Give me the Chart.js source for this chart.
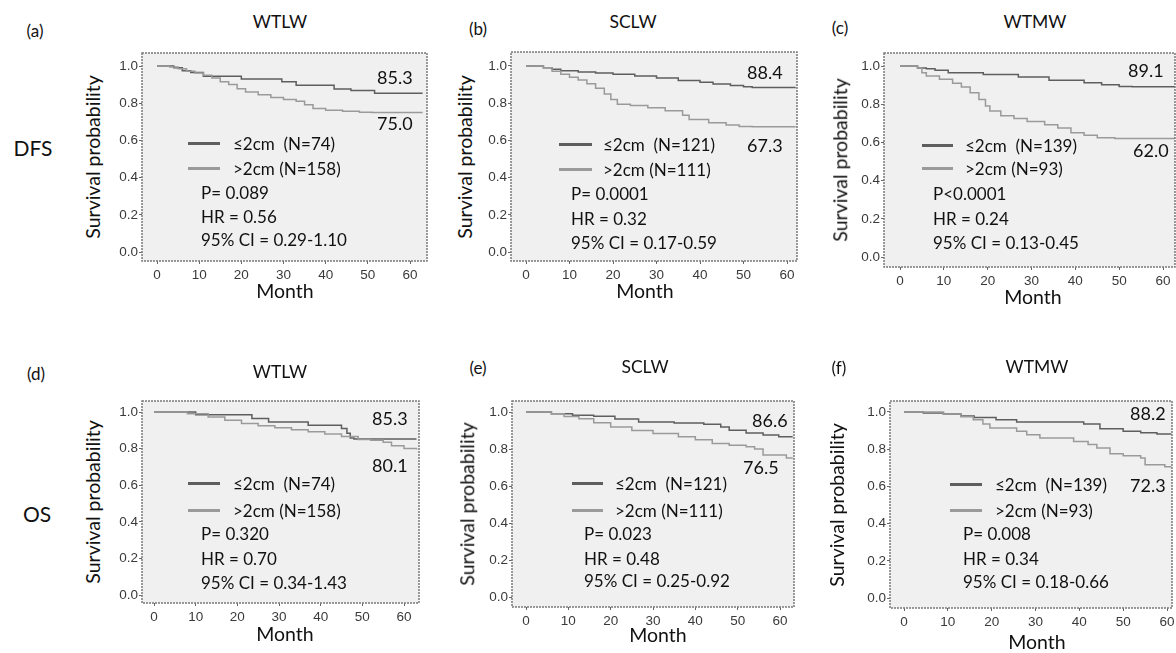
<!DOCTYPE html>
<html>
<head>
<meta charset="utf-8">
<script src="https://cdn.jsdelivr.net/npm/chart.js@4"></script>
<style>
body { margin: 0; width: 1176px; height: 653px; overflow: hidden; background: #fff; position: relative;
       font-family: "Lato", "DejaVu Sans", sans-serif; color: #111; }
.t { position: absolute; white-space: pre; transform: translateY(-50%); line-height: 1; }
.c { transform: translate(-50%, -50%); }
.ylab { transform: translate(-50%, -50%) rotate(-90deg); }
.seg { position: absolute; height: 0; border-top: 3px solid; }
canvas { position: absolute; }
</style>
</head>
<body>
<script>
// tick values
const monthTicks = [0, 10, 20, 30, 40, 50, 60];
const probTicks = [0, 0.2, 0.4, 0.6, 0.8, 1.0];
const groupNames = ['≤2cm  ', '>2cm '];

// Kaplan-Meier steps: [month, survival]
// DFS
const dfsWtlwSmall = [[0,1],[4,0.99],[6,0.975],[8,0.965],[11,0.945],[20,0.93],[29.6,0.915],[33,0.896],[42,0.877],[46,0.868],[51.6,0.853],[63,0.853]];
const dfsWtlwLarge = [[0,1],[3,0.995],[5,0.985],[7,0.972],[9,0.962],[11,0.95],[13,0.935],[15,0.915],[17,0.9],[19,0.878],[21,0.86],[24,0.845],[27,0.83],[30,0.82],[33,0.81],[35,0.792],[37,0.772],[40,0.762],[44,0.757],[48,0.752],[51,0.75],[63,0.75]];
const dfsSclwSmall = [[0,1],[4,0.99],[6,0.982],[8,0.975],[12,0.968],[16,0.962],[20,0.955],[25,0.946],[30,0.935],[35,0.922],[40,0.912],[43,0.903],[47,0.895],[50,0.888],[52,0.884],[62,0.884]];
const dfsSclwLarge = [[0,1],[4,0.99],[6,0.972],[8,0.955],[10,0.94],[12,0.925],[14,0.905],[16,0.88],[18,0.85],[19.5,0.82],[21,0.795],[24,0.788],[28,0.776],[32,0.76],[36,0.735],[37.5,0.712],[42,0.695],[46,0.683],[49,0.675],[52,0.673],[62,0.673]];
const dfsWtmwSmall = [[0,1],[4,0.99],[6,0.985],[8,0.978],[11,0.965],[19,0.956],[27,0.942],[34,0.925],[42,0.912],[46,0.902],[50,0.893],[53,0.891],[63,0.891]];
const dfsWtmwLarge = [[0,1],[4,0.99],[5,0.965],[6,0.947],[9,0.93],[12,0.91],[14,0.89],[16,0.86],[18,0.825],[19.5,0.79],[20.5,0.765],[23,0.74],[26,0.725],[29,0.71],[33,0.693],[36,0.675],[39,0.65],[42,0.638],[45,0.625],[49,0.62],[63,0.62]];
// OS
const osWtlwSmall = [[0,1],[10,0.985],[23.5,0.964],[27.5,0.946],[37,0.928],[45,0.91],[46.3,0.884],[47.1,0.858],[48,0.853],[63,0.853]];
const osWtlwLarge = [[0,1],[8,0.99],[13,0.973],[17,0.955],[21,0.937],[25,0.925],[29,0.914],[33,0.903],[37,0.892],[41,0.88],[45,0.866],[49,0.85],[52,0.845],[55,0.835],[57,0.815],[60,0.8],[63,0.795]];
const osSclwSmall = [[0,1],[6,0.99],[11,0.983],[16,0.977],[21,0.962],[26.6,0.946],[35,0.94],[42,0.934],[46,0.919],[48,0.901],[52,0.887],[56,0.876],[59.7,0.866],[63,0.866]];
const osSclwLarge = [[0,1],[6,0.99],[9,0.976],[12.5,0.964],[16,0.942],[20,0.919],[25,0.9],[30,0.884],[36,0.866],[40,0.85],[44,0.83],[48,0.82],[52,0.812],[54,0.8],[56,0.767],[61.5,0.752],[63,0.752]];
const osWtmwSmall = [[0,1],[4.4,0.995],[9,0.989],[13,0.978],[16,0.971],[21,0.958],[25.7,0.946],[41,0.935],[44.7,0.91],[50,0.896],[54,0.888],[57.7,0.882],[61,0.882]];
const osWtmwLarge = [[0,1],[9,0.989],[13,0.975],[15.8,0.959],[18,0.935],[19.6,0.914],[25.7,0.896],[28,0.878],[31,0.86],[38.7,0.842],[42,0.825],[44,0.806],[47,0.775],[50,0.765],[54,0.753],[55,0.717],[59.5,0.705],[61,0.705]];

// layout of each panel (page pixels): plot box, pixel of month 0 / 60, pixel of prob 1 / 0
const panels = [
  { tag: '(a)', title: 'WTLW', small: dfsWtlwSmall, large: dfsWtlwLarge, n: [74, 158],
    stats: ['P= 0.089', 'HR = 0.56', '95% CI = 0.29-1.10'], ends: [['85.3', 377, 77], ['75.0', 377, 123]],
    box: [142, 53, 427, 261], xcal: [157, 410], ycal: [66, 252],
    tagPos: [35, 30], titlePos: [280, 22], ylabX: 93, monthPos: [285, 291],
    segX: 188, segW: 32, segY: [143, 168], legX: 233, statX: 201, statY: [192, 216, 239] },
  { tag: '(b)', title: 'SCLW', small: dfsSclwSmall, large: dfsSclwLarge, n: [121, 111],
    stats: ['P= 0.0001', 'HR = 0.32', '95% CI = 0.17-0.59'], ends: [['88.4', 747, 72], ['67.3', 747, 145]],
    box: [511, 52, 797, 261], xcal: [526, 787], ycal: [66, 252],
    tagPos: [478, 28], titlePos: [633, 22], ylabX: 465, monthPos: [645, 291],
    segX: 559, segW: 33, segY: [144, 169], legX: 603, statX: 571, statY: [193, 218, 242] },
  { tag: '(c)', title: 'WTMW', small: dfsWtmwSmall, large: dfsWtmwLarge, n: [139, 93],
    stats: ['P<0.0001', 'HR = 0.24', '95% CI = 0.13-0.45'], ends: [['89.1', 1128, 70], ['62.0', 1133, 150]],
    box: [884, 53, 1175, 267], xcal: [900, 1163], ycal: [66, 257],
    tagPos: [840, 27], titlePos: [1035, 22], ylabX: 840, monthPos: [1033, 297],
    segX: 922, segW: 31, segY: [145, 168], legX: 965, statX: 933, statY: [193, 218, 242] },
  { tag: '(d)', title: 'WTLW', small: osWtlwSmall, large: osWtlwLarge, n: [74, 158],
    stats: ['P= 0.320', 'HR = 0.70', '95% CI = 0.34-1.43'], ends: [['85.3', 372, 418], ['80.1', 372, 465]],
    box: [142, 401, 419, 603], xcal: [154, 404], ycal: [412, 595],
    tagPos: [36, 373], titlePos: [280, 372], ylabX: 93, monthPos: [285, 634],
    segX: 188, segW: 32, segY: [483, 510], legX: 233, statX: 201, statY: [533, 558, 582] },
  { tag: '(e)', title: 'SCLW', small: osSclwSmall, large: osSclwLarge, n: [121, 111],
    stats: ['P= 0.023', 'HR = 0.48', '95% CI = 0.25-0.92'], ends: [['86.6', 752, 420], ['76.5', 743, 467]],
    box: [512, 401, 794, 607], xcal: [526, 780], ycal: [412, 597],
    tagPos: [478, 367], titlePos: [645, 367], ylabX: 467, monthPos: [658, 635],
    segX: 572, segW: 31, segY: [483, 510], legX: 615, statX: 584, statY: [533, 558, 580] },
  { tag: '(f)', title: 'WTMW', small: osWtmwSmall, large: osWtmwLarge, n: [139, 93],
    stats: ['P= 0.008', 'HR = 0.34', '95% CI = 0.18-0.66'], ends: [['88.2', 1130, 413], ['72.3', 1130, 485]],
    box: [890, 401, 1172, 608], xcal: [904, 1167], ycal: [412, 598],
    tagPos: [839, 367], titlePos: [1037, 367], ylabX: 837, monthPos: [1037, 642],
    segX: 950, segW: 32, segY: [484, 510], legX: 995, statX: 963, statY: [533, 558, 581] }
];

const colSmall = '#5e5e5e';
const colLarge = '#9a9a9a';
const AXW = 34, AXH = 24, PADT = 10, PADR = 14;

function addText(txt, x, y, size, cls) {
  const el = document.createElement('div');
  el.className = 't' + (cls ? ' ' + cls : '');
  el.textContent = txt;
  el.style.left = x + 'px';
  el.style.top = y + 'px';
  el.style.fontSize = size + 'px';
  document.body.appendChild(el);
  return el;
}

// grey speckled plot area + dotted frame
const plotBox = {
  id: 'plotBox',
  beforeDraw(chart) {
    const a = chart.chartArea, ctx = chart.ctx;
    ctx.save();
    ctx.fillStyle = '#f0f0f0';
    ctx.fillRect(a.left, a.top, a.right - a.left, a.bottom - a.top);
    ctx.restore();
  },
  afterDraw(chart) {
    const a = chart.chartArea, ctx = chart.ctx;
    ctx.save();
    ctx.strokeStyle = '#7a7a7a';
    ctx.lineWidth = 1.5;
    ctx.setLineDash([2, 1]);
    ctx.strokeRect(a.left, a.top, a.right - a.left, a.bottom - a.top);
    ctx.restore();
  }
};

panels.forEach(p => {
  const [bl, bt, br, bb] = p.box;
  const pxPerMonth = (p.xcal[1] - p.xcal[0]) / 60;
  const pxPerProb = p.ycal[1] - p.ycal[0];

  const canvas = document.createElement('canvas');
  canvas.width = br - bl + AXW + PADR;
  canvas.height = bb - bt + AXH + PADT;
  canvas.style.left = (bl - AXW) + 'px';
  canvas.style.top = (bt - PADT) + 'px';
  document.body.appendChild(canvas);

  const tickFont = { family: 'Liberation Sans', size: 13.5 };

  new Chart(canvas, {
    type: 'line',
    data: {
      datasets: [
        { data: p.large.map(([t, s]) => ({ x: t, y: s })), borderColor: colLarge, borderWidth: 1.5,
          stepped: true, pointRadius: 0, fill: false },
        { data: p.small.map(([t, s]) => ({ x: t, y: s })), borderColor: colSmall, borderWidth: 1.5,
          stepped: true, pointRadius: 0, fill: false }
      ]
    },
    options: {
      responsive: false,
      animation: false,
      events: [],
      layout: { padding: { top: PADT, right: PADR, left: 0, bottom: 0 } },
      plugins: { legend: { display: false }, tooltip: { enabled: false } },
      scales: {
        x: {
          type: 'linear',
          min: (bl - p.xcal[0]) / pxPerMonth,
          max: (br - p.xcal[0]) / pxPerMonth,
          afterBuildTicks: s => { s.ticks = monthTicks.map(v => ({ value: v })); },
          afterFit: s => { s.height = AXH; },
          grid: { drawOnChartArea: false, tickLength: 3, color: '#666' },
          border: { display: false },
          ticks: { font: tickFont, color: '#3a3a3a', padding: 3, maxRotation: 0 }
        },
        y: {
          type: 'linear',
          min: (p.ycal[1] - bb) / pxPerProb,
          max: (p.ycal[1] - bt) / pxPerProb,
          afterBuildTicks: s => { s.ticks = probTicks.map(v => ({ value: v })); },
          afterFit: s => { s.width = AXW; },
          grid: { drawOnChartArea: false, tickLength: 3, color: '#666' },
          border: { display: false },
          ticks: { font: tickFont, color: '#3a3a3a', padding: 1, callback: v => v.toFixed(1) }
        }
      }
    },
    plugins: [plotBox]
  });

  // texts around the panel
  addText(p.tag, p.tagPos[0], p.tagPos[1], 17, 'c');
  addText(p.title, p.titlePos[0], p.titlePos[1], 17.5, 'c');
  addText('Survival probability', p.ylabX, (bt + bb) / 2, 19.5, 'ylab');
  addText('Month', p.monthPos[0], p.monthPos[1], 19.5, 'c');

  // in-plot legend
  [colSmall, colLarge].forEach((col, i) => {
    const seg = document.createElement('div');
    seg.className = 'seg';
    seg.style.left = p.segX + 'px';
    seg.style.top = (p.segY[i] - 1) + 'px';
    seg.style.width = p.segW + 'px';
    seg.style.borderColor = col;
    document.body.appendChild(seg);
    addText(groupNames[i] + '(N=' + p.n[i] + ')', p.legX, p.segY[i], 17);
  });
  p.stats.forEach((s, i) => addText(s, p.statX, p.statY[i], 17));
  p.ends.forEach(([s, x, y]) => addText(s, x, y, 18));
});

addText('DFS', 33, 147, 21, 'c');
addText('OS', 37, 513, 21, 'c');
</script>
</body>
</html>
